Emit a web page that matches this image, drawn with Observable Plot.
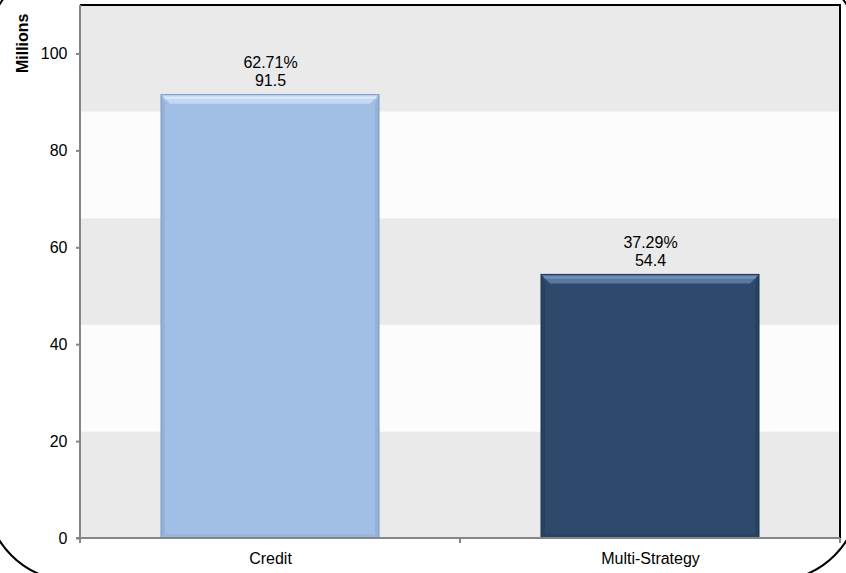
<!DOCTYPE html>
<html>
<head>
<meta charset="utf-8">
<script src="https://cdn.jsdelivr.net/npm/d3@7"></script>
<script src="https://cdn.jsdelivr.net/npm/@observablehq/plot@0.6"></script>
<style>
  html, body { margin: 0; padding: 0; background: #fff; }
  #wrap { position: relative; width: 846px; height: 573px; overflow: hidden; }
  #outline { position: absolute; left: -15px; top: -37px; width: 876px; height: 619px; box-sizing: border-box;
             border: 2px solid #000; border-radius: 88px; z-index: 0; }
  #chart { position: absolute; left: 0; top: 0; z-index: 1; }
</style>
</head>
<body>
<div id="wrap"><div id="outline"></div><div id="chart"></div></div>
<script>
const categories = ["Credit", "Multi-Strategy"];
const values = [91.5, 54.4];
const shares = ["62.71%", "37.29%"];
const yTicks = [0, 20, 40, 60, 80, 100];
const bandEdges = [0, 22, 44, 66, 88, 110];
const bandFills = ["#eaeaea", "#fcfcfc", "#eaeaea", "#fcfcfc", "#eaeaea"];
const barFaces = ["#a1bee4", "#2d4a6c"];
const barTops = ["#c2daf3", "#5878a2"];
const barSides = ["#94b1d9", "#27425f"];
const barEdges = ["#7d97bd", "#1c3250"];

const data = categories.map((c, i) => ({
  category: c, value: values[i], fill: barFaces[i],
  label: shares[i] + "\n" + values[i].toFixed(1)
}));
const bands = bandFills.map((f, i) => ({y1: bandEdges[i], y2: bandEdges[i + 1], fill: f}));

function bevel(index, scales, vals, dims, context, next) {
  const g = next(index, scales, vals, dims, context);
  const sel = d3.select(g);
  sel.selectAll("rect").each(function(_, k) {
    const r = d3.select(this);
    const x = +r.attr("x"), y = +r.attr("y"), w = +r.attr("width"), h = +r.attr("height");
    const i = index[k];
    const b = 9, s = 4;
    const p = d3.select(this.parentNode);
    p.append("polygon").attr("points", [[x, y], [x + s, y + b], [x + s, y + h - s], [x, y + h]].join(" ")).attr("fill", barSides[i]);
    p.append("polygon").attr("points", [[x + w, y], [x + w - s, y + b], [x + w - s, y + h - s], [x + w, y + h]].join(" ")).attr("fill", barSides[i]);
    p.append("polygon").attr("points", [[x, y + h], [x + s, y + h - s], [x + w - s, y + h - s], [x + w, y + h]].join(" ")).attr("fill", barSides[i]).attr("opacity", 0.7);
    p.append("polygon").attr("points", [[x, y], [x + w, y], [x + w - b, y + b], [x + b, y + b]].join(" ")).attr("fill", barTops[i]);
    p.append("line").attr("x1", x + 3).attr("x2", x + w - 3).attr("y1", y + 3).attr("y2", y + 3)
      .attr("stroke", "#fff").attr("stroke-opacity", i === 0 ? 0.45 : 0.2).attr("stroke-width", 2);
    p.append("rect").attr("x", x).attr("y", y).attr("width", w).attr("height", h)
      .attr("fill", "none").attr("stroke", barEdges[i]).attr("stroke-width", 1);
  });
  return g;
}

function decor(index, scales, vals, dims) {
  const {width, height, marginLeft, marginRight, marginTop, marginBottom} = dims;
  const g = d3.create("svg:g");
  const x0 = marginLeft, x1 = width - marginRight, y0 = marginTop, y1 = height - marginBottom;
  const c0 = scales.x(categories[0]), c1 = scales.x(categories[1]);
  const step = c1 - c0;
  g.append("line").attr("x1", x0).attr("x2", x1 + 1).attr("y1", y0).attr("y2", y0).attr("stroke", "#000").attr("stroke-width", 2);
  g.append("line").attr("x1", x1).attr("x2", x1).attr("y1", y0).attr("y2", y1).attr("stroke", "#000").attr("stroke-width", 2);
  g.append("line").attr("x1", x0).attr("x2", x0).attr("y1", y0).attr("y2", y1).attr("stroke", "#868686").attr("stroke-width", 2);
  g.append("line").attr("x1", x0 - 4).attr("x2", x1).attr("y1", y1).attr("y2", y1).attr("stroke", "#868686").attr("stroke-width", 2);
  for (let i = 0; i <= categories.length; i++) {
    const xx = Math.min(x0 + i * step, x1);
    g.append("line").attr("x1", xx).attr("x2", xx).attr("y1", y1).attr("y2", y1 + 5).attr("stroke", "#868686").attr("stroke-width", 2);
  }
  return g.node();
}

const chart = Plot.plot({
  width: 846, height: 573,
  marginLeft: 80, marginRight: 6, marginTop: 5, marginBottom: 35,
  style: {fontFamily: "'Liberation Sans', Arial, sans-serif", fontSize: "16px", background: "transparent", color: "#000", overflow: "visible"},
  x: {domain: categories, paddingInner: 0.426, paddingOuter: 0.213, label: null},
  y: {domain: [0, 110], label: null},
  color: {type: "identity"},
  marks: [
    Plot.rectY(bands, {y1: "y1", y2: "y2", fill: "fill"}),
    Plot.barY(data, {x: "category", y: "value", fill: "fill", render: bevel}),
    decor,
    Plot.axisY({ticks: yTicks, tickSize: 4, tickPadding: 9, stroke: "#868686", strokeWidth: 2, fontSize: 16, fill: "#000"}),
    Plot.axisX({tickSize: 0, tickPadding: 14, fontSize: 16, fill: "#000"}),
    Plot.text(data, {x: "category", y: "value", text: "label", lineAnchor: "bottom", lineHeight: 1.125, dy: -9, fontSize: 16, fill: "#000"}),
    Plot.text(["Millions"], {frameAnchor: "top-left", text: d => d, dx: -64, dy: 8, rotate: -90, textAnchor: "end", fontWeight: "bold", fontSize: 16, fill: "#000"})
  ]
});
document.getElementById("chart").appendChild(chart);
</script>
</body>
</html>
